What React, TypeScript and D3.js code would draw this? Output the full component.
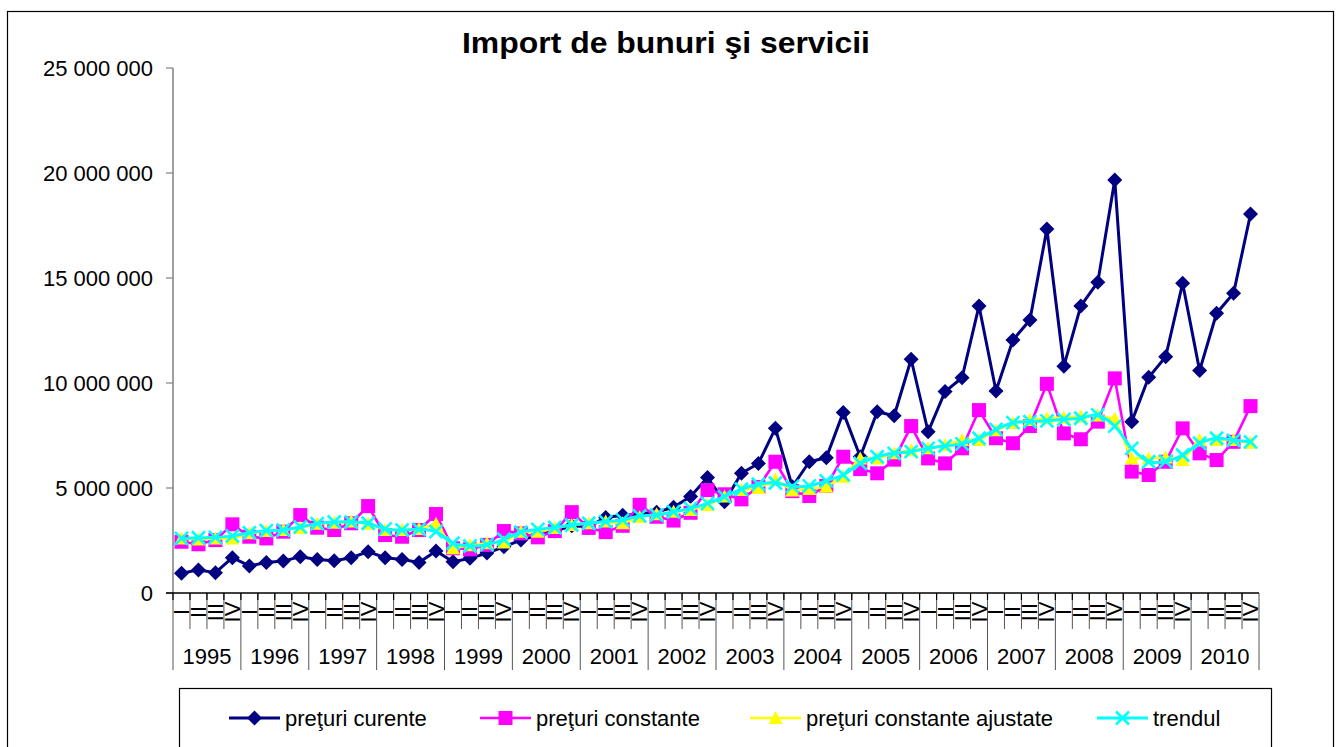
import React from "react";
import * as d3 from "d3";

const YEARS = ["1995","1996","1997","1998","1999","2000","2001","2002","2003","2004","2005","2006","2007","2008","2009","2010"];
const QUARTERS = ["I", "II", "III", "IV"];
const Y_TICKS = [0, 5, 10, 15, 20, 25];
const Y_TICK_LABELS = ["0", "5 000 000", "10 000 000", "15 000 000", "20 000 000", "25 000 000"];
const TITLE = "Import de bunuri şi servicii";
const SERIES_NAMES = ["preţuri curente", "preţuri constante", "preţuri constante ajustate", "trendul"];

// values in millions
const CURENTE = [
  0.94, 1.1, 0.97, 1.68,
  1.29, 1.45, 1.52, 1.73,
  1.6, 1.54, 1.68, 1.97,
  1.68, 1.6, 1.45, 2.0,
  1.49, 1.65, 1.9, 2.2,
  2.52, 2.75, 2.95, 3.2,
  3.15, 3.6, 3.7, 3.75,
  3.85, 4.08, 4.6, 5.5,
  4.35, 5.7, 6.17, 7.84,
  5.06, 6.25, 6.44, 8.6,
  6.49, 8.63, 8.44, 11.13,
  7.68, 9.59, 10.25, 13.67,
  9.62, 12.05, 13.0, 17.33,
  10.8, 13.67, 14.8, 19.67,
  8.16, 10.27, 11.25, 14.75,
  10.59, 13.32, 14.27, 18.05,
];
const CONSTANTE = [
  2.44, 2.32, 2.52, 3.27,
  2.68, 2.6, 2.92, 3.71,
  3.11, 3.0, 3.32, 4.14,
  2.76, 2.68, 3.0, 3.76,
  2.13, 2.08, 2.29, 2.95,
  2.84, 2.65, 2.95, 3.85,
  3.1, 2.9, 3.2, 4.2,
  3.63, 3.45, 3.82, 4.9,
  4.7, 4.46, 5.05, 6.25,
  4.85, 4.62, 5.1, 6.49,
  5.9, 5.7, 6.35, 7.95,
  6.41, 6.17, 6.89, 8.71,
  7.37, 7.13, 7.95, 9.96,
  7.6, 7.32, 8.16, 10.22,
  5.78, 5.62, 6.25, 7.84,
  6.65, 6.33, 7.2, 8.9,
];
const AJUSTATE = [
  2.6, 2.55, 2.6, 2.6,
  2.85, 2.95, 3.0, 3.1,
  3.3, 3.35, 3.4, 3.3,
  3.0, 3.0, 3.05, 3.3,
  2.13, 2.27, 2.37, 2.4,
  2.92, 2.92, 3.1, 3.24,
  3.32, 3.4, 3.32, 3.62,
  3.75, 3.87, 3.95, 4.19,
  4.59, 4.9, 5.0, 5.4,
  4.88, 4.95, 5.06, 5.54,
  6.41, 6.4, 6.65, 6.8,
  6.89, 7.05, 7.29, 7.29,
  7.75, 8.1, 8.24, 8.32,
  8.35, 8.4, 8.45, 8.3,
  6.41, 6.41, 6.45, 6.33,
  7.29, 7.29, 7.29, 7.16,
];
const TRENDUL = [
  2.6, 2.63, 2.65, 2.72,
  2.87, 2.97, 3.0, 3.15,
  3.3, 3.38, 3.38, 3.32,
  3.05, 3.0, 3.03, 2.92,
  2.37, 2.24, 2.3, 2.56,
  2.9, 3.03, 3.12, 3.24,
  3.32, 3.4, 3.48, 3.67,
  3.71, 3.87, 4.03, 4.27,
  4.59, 4.94, 5.18, 5.24,
  5.08, 5.1, 5.34, 5.63,
  6.17, 6.49, 6.65, 6.73,
  6.89, 7.0, 7.1, 7.37,
  7.79, 8.11, 8.16, 8.2,
  8.27, 8.32, 8.48, 7.95,
  6.89, 6.25, 6.27, 6.57,
  7.13, 7.37, 7.27, 7.2,
];

const W = 1337, H = 747;
const FONT = "'Liberation Sans', Arial, sans-serif";
const PLOT = { left: 173, right: 1259, top: 68, bottom: 593 };
const LEGEND_X = [229, 480, 750, 1097];

const COLORS = ["#000080", "#FF00FF", "#FFFF00", "#00FFFF"];

function Marker({ kind, x, y }: { kind: number; x: number; y: number }) {
  if (kind === 0) {
    const s = 7.5;
    return <path d={`M${x},${y - s}L${x + s},${y}L${x},${y + s}L${x - s},${y}Z`} fill={COLORS[0]} />;
  }
  if (kind === 1) {
    const s = 7;
    return <rect x={x - s} y={y - s} width={2 * s} height={2 * s} fill={COLORS[1]} />;
  }
  if (kind === 2) {
    const s = 7;
    return <path d={`M${x},${y - s}L${x + s},${y + s - 1}L${x - s},${y + s - 1}Z`} fill={COLORS[2]} />;
  }
  const s = 6.5;
  return (
    <path
      d={`M${x - s},${y - s}L${x + s},${y + s}M${x - s},${y + s}L${x + s},${y - s}`}
      stroke={COLORS[3]}
      strokeWidth={2.6}
      fill="none"
    />
  );
}

export default function App() {
  const n = YEARS.length * QUARTERS.length;
  const idx = d3.range(n);
  const x = d3.scaleBand<number>().domain(idx).range([PLOT.left, PLOT.right]).padding(0);
  const bw = x.bandwidth();
  const cx = (i: number) => (x(i) as number) + bw / 2;
  const y = d3.scaleLinear().domain([0, 25]).range([PLOT.bottom, PLOT.top]);

  const series = [CURENTE, CONSTANTE, AJUSTATE, TRENDUL];
  const straight = d3.line<number>().x((_, i) => cx(i)).y((d) => y(d));
  const smooth = d3.line<number>().x((_, i) => cx(i)).y((d) => y(d)).curve(d3.curveCatmullRom.alpha(0.5));
  const widths = [3, 2.6, 2.6, 3];

  const yearW = bw * 4;

  return (
    <svg
      width={W}
      height={H}
      style={{ position: "absolute", left: 0, top: 0, background: "#fff" }}
      fontFamily={FONT}
    >
      <rect x={0} y={0} width={W} height={H} fill="#fff" />
      <rect x={7.5} y={11.5} width={1326} height={760} fill="none" stroke="#000" strokeWidth={1.2} />

      <text
        x={666}
        y={53}
        textAnchor="middle"
        fontWeight="bold"
        fontSize={29}
        textLength={408}
        lengthAdjust="spacingAndGlyphs"
      >
        {TITLE}
      </text>

      {/* Y axis */}
      <line x1={PLOT.left} x2={PLOT.left} y1={PLOT.top} y2={PLOT.bottom} stroke="#808080" strokeWidth={1.5} />
      {Y_TICKS.map((t, i) => (
        <g key={t}>
          <line x1={PLOT.left - 7} x2={PLOT.left} y1={y(t)} y2={y(t)} stroke="#808080" strokeWidth={1.2} />
          <text x={153} y={y(t)} dy="0.35em" textAnchor="end" fontSize={22}>
            {Y_TICK_LABELS[i]}
          </text>
        </g>
      ))}

      {/* X axis category grid */}
      {idx.map((i) => {
        const left = x(i) as number;
        const isYear = i % 4 === 0;
        return (
          <line
            key={"q" + i}
            x1={left}
            x2={left}
            y1={PLOT.bottom}
            y2={isYear ? 670 : 629}
            stroke="#555"
            strokeWidth={1}
          />
        );
      })}
      <line x1={PLOT.right} x2={PLOT.right} y1={PLOT.bottom} y2={670} stroke="#555" strokeWidth={1} />
      {idx.map((i) => (
        <line key={"t" + i} x1={x(i) as number} x2={x(i) as number} y1={PLOT.bottom} y2={PLOT.bottom + 7} stroke="#000" strokeWidth={1.2} />
      ))}
      <line x1={PLOT.left - 7} x2={PLOT.right} y1={PLOT.bottom} y2={PLOT.bottom} stroke="#000" strokeWidth={1.5} />
      {idx.map((i) => {
        const right = (x(i) as number) + bw - 1;
        const q = QUARTERS[i % 4];
        return (
          <text
            key={"ql" + i}
            transform={`translate(${right},612) rotate(-90)`}
            textAnchor="middle"
            fontSize={22}
          >
            {q}
          </text>
        );
      })}
      {YEARS.map((yr, k) => (
        <text key={yr} x={PLOT.left + yearW * k + yearW / 2} y={664} textAnchor="middle" fontSize={22}>
          {yr}
        </text>
      ))}

      {/* Series */}
      {series.map((s, si) => (
        <g key={"s" + si}>
          <path
            d={(si === 3 ? smooth : straight)(s) || ""}
            fill="none"
            stroke={COLORS[si]}
            strokeWidth={widths[si]}
            strokeLinejoin="round"
          />
          {s.map((v, i) => (
            <Marker key={i} kind={si} x={cx(i)} y={y(v)} />
          ))}
        </g>
      ))}

      {/* Legend */}
      <rect x={179.5} y={688.5} width={1092} height={80} fill="#fff" stroke="#000" strokeWidth={1.2} />
      {SERIES_NAMES.map((name, i) => {
        const lx = LEGEND_X[i];
        return (
          <g key={name}>
            <line x1={lx} x2={lx + 51} y1={718} y2={718} stroke={COLORS[i]} strokeWidth={widths[i]} />
            <Marker kind={i} x={lx + 25.5} y={718} />
            <text x={lx + 56} y={718} dy="0.35em" fontSize={22}>
              {name}
            </text>
          </g>
        );
      })}
    </svg>
  );
}
